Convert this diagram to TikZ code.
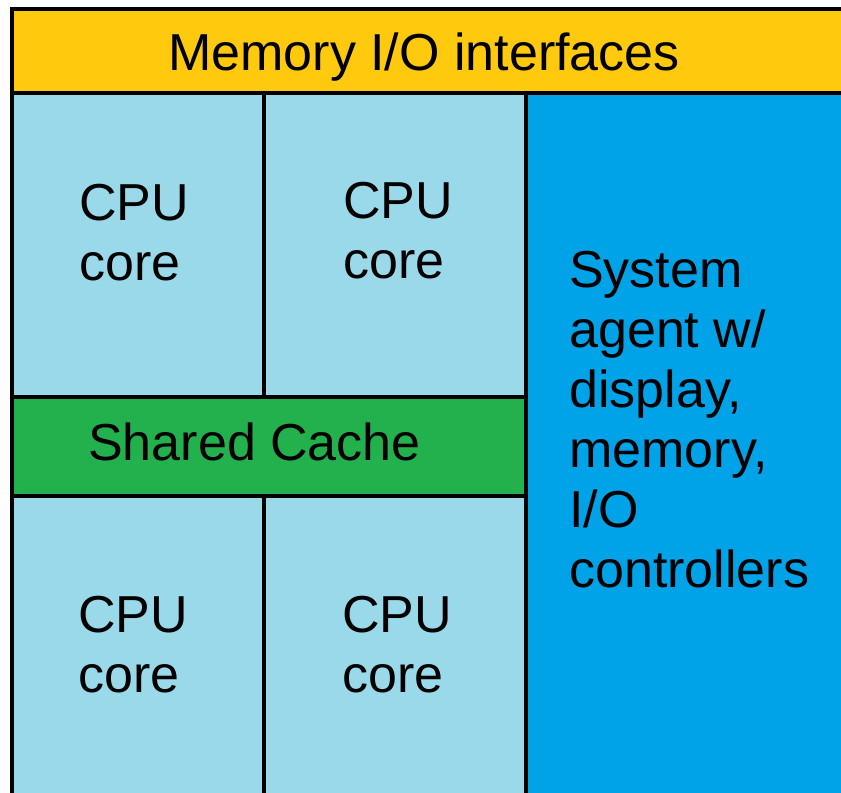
\documentclass[tikz,border=0pt]{standalone}
\usepackage{fontspec}
\setmainfont{Liberation Sans}
\definecolor{ioyellow}{RGB}{255,201,14}
\definecolor{corecyan}{RGB}{153,217,234}
\definecolor{cachegreen}{RGB}{34,177,76}
\definecolor{agentblue}{RGB}{0,162,232}
\begin{document}
\begin{tikzpicture}[x=0.75pt,y=-0.75pt,
  block/.style={draw=black,line width=3pt},
  label/.style={inner sep=0pt,anchor=base west,align=left,
    font=\fontsize{39}{45}\selectfont}]
\useasboundingbox (0,0) rectangle (841,792);
\fill[white] (0,0) rectangle (841,792);
\begin{scope}
\clip (0,0) rectangle (841,792);
% die floorplan blocks
\path[block,fill=ioyellow]   (12,9)   rectangle (860,93);
\path[block,fill=agentblue]  (526,93) rectangle (860,820);
\path[block,fill=corecyan]   (12,93)  rectangle (264,397);
\path[block,fill=corecyan]   (264,93) rectangle (526,397);
\path[block,fill=cachegreen] (12,397) rectangle (526,496);
\path[block,fill=corecyan]   (12,496) rectangle (264,820);
\path[block,fill=corecyan]   (264,496) rectangle (526,820);
\end{scope}
% block labels (anchored at the baseline of the last line)
\node[label] (mio)  at (168,70)  {Memory I/O interfaces};
\node[label] (c1)   at (79,280)  {CPU\\core};
\node[label] (c2)   at (343,278) {CPU\\core};
\node[label] (llc)  at (88,460)  {Shared Cache};
\node[label] (c3)   at (78,692)  {CPU\\core};
\node[label] (c4)   at (342,692) {CPU\\core};
\node[label] (sa)   at (569,587) {System\\agent w/\\display,\\memory,\\I/O\\controllers};
\end{tikzpicture}
\end{document}
